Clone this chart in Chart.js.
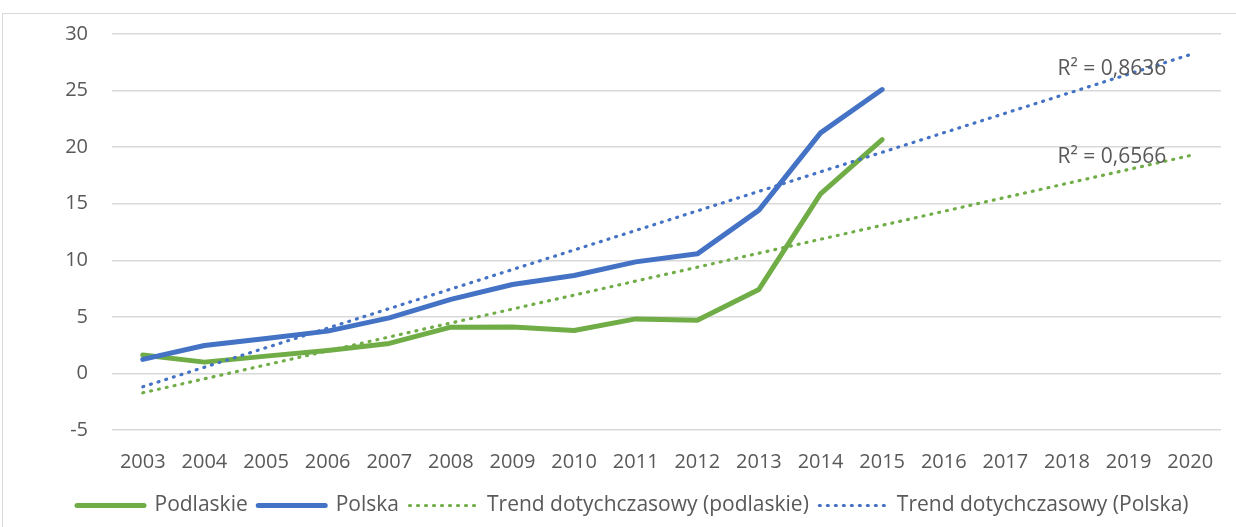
<!DOCTYPE html>
<html lang="pl">
<head>
<meta charset="utf-8">
<title>Podlaskie i Polska 2003-2015 z trendem</title>
<script src="https://cdn.jsdelivr.net/npm/chart.js@4.4.1/dist/chart.umd.min.js"></script>
<style>
    html, body {
        margin: 0;
        padding: 0;
        background: #ffffff;
        overflow: hidden;
    }
    #wrap {
        position: relative;
        width: 1236px;
        height: 527px;
    }
    /* ramka obszaru wykresu */
    #frame {
        position: absolute;
        left: 2px;
        top: 13px;
        width: 1300px;
        height: 600px;
        border: 1px solid #d9d9d9;
    }
    #chart {
        position: absolute;
        left: 0;
        top: 0;
    }
</style>
</head>
<body>
<div id="wrap">
    <div id="frame"></div>
    <canvas id="chart" width="1236" height="527"></canvas>
</div>
<script>
    'use strict';

    // Lata na osi X
    const years = ['2003', '2004', '2005', '2006', '2007', '2008', '2009', '2010', '2011',
        '2012', '2013', '2014', '2015', '2016', '2017', '2018', '2019', '2020'];

    // Wartości serii (2003-2015)
    const podlaskie = [1.62, 1.00, 1.53, 2.03, 2.65, 4.09, 4.10, 3.80, 4.82, 4.71, 7.42, 15.87, 20.67];
    const polska = [1.24, 2.47, 3.09, 3.74, 4.91, 6.54, 7.86, 8.66, 9.86, 10.57, 14.43, 21.26, 25.09];

    // Linie trendu: wartość na początku (2003) i na końcu (2020)
    const trendPodlaskie = [-1.71, 19.26];
    const trendPolska = [-1.18, 28.18];

    // Etykiety R² i wysokość (w jednostkach osi Y), przy której stoją
    const r2Texts = ['R² = 0,8636', 'R² = 0,6566'];
    const r2Levels = [26.9, 19.1];

    // Podziałka osi Y
    const yMin = -5;
    const yMax = 30;
    const yStep = 5;

    const colors = {
        green: '#70ad47',
        blue: '#4472c4',
        grid: '#d9d9d9',
        text: '#595959'
    };

    const fontFamily = '"Open Sans", "Liberation Sans", sans-serif';
    const dotted = [1, 7];

    // trend jako linia od pierwszego do ostatniego roku, środek pusty
    function trendSeries(ends) {
        return years.map(function(y, i) {
            if (i === 0) return ends[0];
            if (i === years.length - 1) return ends[1];
            return null;
        });
    }

    // Legenda: próbki linii z grubością i kropkami serii,
    // odstęp za tekstem daje spacja półfiretowa
    function legendLabels(chart) {
        const items = Chart.defaults.plugins.legend.labels.generateLabels(chart);
        return items.map(function(item) {
            const ds = chart.data.datasets[item.datasetIndex];
            item.text = item.text + '\u2002';
            item.lineWidth = ds.borderWidth;
            item.lineDash = ds.borderDash || [];
            item.lineCap = ds.borderCapStyle || 'butt';
            item.strokeStyle = ds.borderColor;
            return item;
        });
    }

    // Podpisy R² przy końcach linii trendu
    const r2Plugin = {
        id: 'r2Labels',
        afterDatasetsDraw: function(chart) {
            const ctx = chart.ctx;
            const xs = chart.scales.x;
            const ys = chart.scales.y;
            const right = xs.getPixelForValue(years.length - 1) - 24;
            ctx.save();
            ctx.font = '21px ' + fontFamily;
            ctx.fillStyle = colors.text;
            ctx.textAlign = 'right';
            ctx.textBaseline = 'middle';
            r2Texts.forEach(function(t, i) {
                ctx.fillText(t, right, ys.getPixelForValue(r2Levels[i]));
            });
            ctx.restore();
        }
    };

    const ctx = document.getElementById('chart').getContext('2d');

    new Chart(ctx, {
        type: 'line',
        data: {
            labels: years,
            datasets: [{
                label: 'Podlaskie',
                data: podlaskie,
                borderColor: colors.green,
                backgroundColor: colors.green,
                borderWidth: 5,
                borderCapStyle: 'round',
                borderJoinStyle: 'round',
                pointRadius: 0,
                order: 3
            }, {
                label: 'Polska',
                data: polska,
                borderColor: colors.blue,
                backgroundColor: colors.blue,
                borderWidth: 5,
                borderCapStyle: 'round',
                borderJoinStyle: 'round',
                pointRadius: 0,
                order: 2
            }, {
                label: 'Trend dotychczasowy (podlaskie)',
                data: trendSeries(trendPodlaskie),
                borderColor: colors.green,
                backgroundColor: colors.green,
                borderWidth: 3.2,
                borderDash: dotted,
                borderCapStyle: 'round',
                spanGaps: true,
                pointRadius: 0,
                order: 1
            }, {
                label: 'Trend dotychczasowy (Polska)',
                data: trendSeries(trendPolska),
                borderColor: colors.blue,
                backgroundColor: colors.blue,
                borderWidth: 3.2,
                borderDash: dotted,
                borderCapStyle: 'round',
                spanGaps: true,
                pointRadius: 0,
                order: 0
            }]
        },
        options: {
            responsive: false,
            animation: false,
            layout: {
                padding: { left: 55, right: 15, top: 32, bottom: 1 }
            },
            plugins: {
                legend: {
                    position: 'bottom',
                    labels: {
                        usePointStyle: true,
                        pointStyle: 'line',
                        pointStyleWidth: 67,
                        boxWidth: 67,
                        padding: 0,
                        color: colors.text,
                        font: { family: fontFamily, size: 21 },
                        generateLabels: legendLabels,
                        sort: function(a, b) {
                            return a.datasetIndex - b.datasetIndex;
                        }
                    }
                },
                tooltip: { enabled: false }
            },
            scales: {
                x: {
                    offset: true,
                    grid: { display: false, drawTicks: false },
                    border: { display: false },
                    ticks: {
                        color: colors.text,
                        padding: 20.5,
                        maxRotation: 0,
                        autoSkip: false,
                        font: { family: fontFamily, size: 20 }
                    }
                },
                y: {
                    min: yMin,
                    max: yMax,
                    afterFit: function(scale) {
                        scale.width = 57;
                    },
                    grid: { color: colors.grid, lineWidth: 1.5, drawTicks: false },
                    border: { display: false },
                    ticks: {
                        stepSize: yStep,
                        color: colors.text,
                        padding: 24,
                        font: { family: fontFamily, size: 20, lineHeight: 1 }
                    }
                }
            }
        },
        plugins: [r2Plugin]
    });
</script>
</body>
</html>
